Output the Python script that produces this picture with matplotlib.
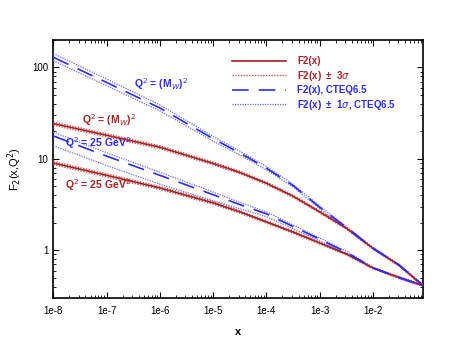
import matplotlib
matplotlib.use("Agg")
import matplotlib.pyplot as plt
import numpy as np

# x grid
x = [1e-8, 1e-7, 1e-6, 1e-5, 3.16e-5, 1e-4, 3.16e-4, 1e-3, 3.16e-3, 1e-2, 3.16e-2, 0.087]

# F2 at Q^2 = (M_W)^2 and 25 GeV^2
f2_mw = [24.3, 18.1, 13.4, 8.9, 7.1, 5.4, 3.9, 2.63, 1.74, 1.05, 0.68, 0.41]
f2_25 = [9.0, 6.6, 4.8, 3.3, 2.63, 2.04, 1.58, 1.2, 0.91, 0.64, 0.5, 0.41]
err_red = [0.04, 0.04, 0.035, 0.035, 0.03, 0.03, 0.03, 0.025, 0.025, 0.02, 0.02, 0.02]

# CTEQ6.5
cteq_mw = [129, 68.5, 36, 16.6, 11.6, 7.9, 5.1, 2.95, 1.78, 1.05, 0.68, 0.41]
cteq_25 = [17.8, 10.7, 6.6, 4.05, 3.16, 2.5, 1.82, 1.32, 0.95, 0.64, 0.5, 0.41]
cteq_mw_up = [0.10, 0.09, 0.08, 0.06, 0.05, 0.04, 0.035, 0.03, 0.025, 0.02, 0.02, 0.02]
cteq_mw_dn = [0.08, 0.08, 0.07, 0.06, 0.05, 0.04, 0.035, 0.03, 0.025, 0.02, 0.02, 0.02]
cteq_25_up = [0.10, 0.09, 0.08, 0.07, 0.06, 0.05, 0.04, 0.03, 0.03, 0.02, 0.02, 0.02]
cteq_25_dn = [0.22, 0.21, 0.20, 0.14, 0.10, 0.07, 0.05, 0.04, 0.03, 0.02, 0.02, 0.02]

red = "#a52222"
red_lt = "#d9535a"
blue = "#2b2bff"
blue_lt = "#6a6aff"

plt.rcParams['font.family'] = ['Liberation Sans', 'DejaVu Sans']
fig = plt.figure(figsize=(4.57, 3.41), dpi=100)
ax = fig.add_axes([0.1167, 0.126, 0.809, 0.757])

x = np.array(x)
for f, e in [(f2_mw, err_red), (f2_25, err_red)]:
    f = np.array(f); e = np.array(e)
    ax.plot(x, f, color=red, lw=1.2, zorder=4)
    ax.plot(x, f * (1 + e), color=red_lt, lw=1.0, ls=(0, (1, 1)), zorder=3)
    ax.plot(x, f * (1 - e), color=red_lt, lw=1.0, ls=(0, (1, 1)), zorder=3)

for f, up, dn in [(cteq_mw, cteq_mw_up, cteq_mw_dn), (cteq_25, cteq_25_up, cteq_25_dn)]:
    f = np.array(f)
    ax.plot(x, f, color=blue, lw=1.2, ls=(0, (10, 6)), zorder=5)
    ax.plot(x, f * (1 + np.array(up)), color=blue_lt, lw=0.9, ls=(0, (1, 1)), zorder=3)
    ax.plot(x, f * (1 - np.array(dn)), color=blue_lt, lw=0.9, ls=(0, (1, 1)), zorder=3)

ax.set_xscale("log")
ax.set_yscale("log")
ax.set_xlim(1e-8, 0.087)
ax.set_ylim(0.3, 200)

ax.set_xticks([1e-8, 1e-7, 1e-6, 1e-5, 1e-4, 1e-3, 1e-2])
ax.set_xticklabels(["1e-8", "1e-7", "1e-6", "1e-5", "1e-4", "1e-3", "1e-2"])
ax.set_yticks([1, 10, 100])
ax.set_yticklabels(["1", "10", "100"])
ax.tick_params(which="both", direction="in", top=True, right=True, labelsize=7)
ax.tick_params(which="major", length=4, width=0.8)
ax.tick_params(which="minor", length=2, width=0.6)
ax.tick_params(axis="x", pad=6)
ax.yaxis.set_minor_formatter(matplotlib.ticker.NullFormatter())
ax.xaxis.set_minor_formatter(matplotlib.ticker.NullFormatter())
for s in ax.spines.values():
    s.set_linewidth(1.2)

ax.set_xlabel("x", fontsize=8, fontweight="bold", labelpad=8)
ax.set_ylabel("F$_2$(x,Q$^2$)", fontsize=8, labelpad=6)

kw = dict(fontsize=7.5, fontweight="bold", va="center")
ax.text(3.2e-7, 65, "Q$^2$ = (M$_W$)$^2$", color=blue, **kw)
ax.text(3.5e-8, 26.5, "Q$^2$ = (M$_W$)$^2$", color=red, **kw)
ax.text(1.66e-8, 14.8, "Q$^2$ = 25 GeV$^2$", color=blue, **kw)
ax.text(1.66e-8, 5.1, "Q$^2$ = 25 GeV$^2$", color=red, **kw)

h1, = ax.plot([], [], color=red, lw=1.2)
h2, = ax.plot([], [], color=red_lt, lw=1.0, ls=(0, (1, 1)))
h3, = ax.plot([], [], color=blue, lw=1.2, ls=(0, (10, 6)))
h4, = ax.plot([], [], color=blue_lt, lw=0.9, ls=(0, (1, 1)))
leg = ax.legend([h1, h2, h3, h4],
                ["F2(x)", "F2(x)  ±  3$\\sigma$", "F2(x), CTEQ6.5",
                 "F2(x)  ±  1$\\sigma$, CTEQ6.5"],
                loc="upper left", bbox_to_anchor=(0.46, 0.97), frameon=False,
                prop=dict(size=7, weight="bold"),
                handlelength=5.5, handletextpad=1.2, labelspacing=0.25)
for t, c in zip(leg.get_texts(), [red, red, blue, blue]):
    t.set_color(c)

fig.savefig("out.png", dpi=100)
